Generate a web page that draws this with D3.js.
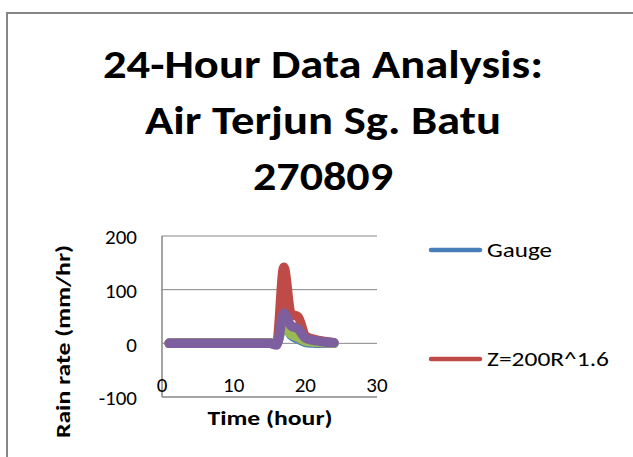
<!DOCTYPE html>
<html>
<head>
<meta charset="utf-8">
<script src="https://cdn.jsdelivr.net/npm/d3@7"></script>
<style>
  body { margin: 0; background: #fff; }
  text { font-family: Carlito, Calibri, Lato, sans-serif; fill: #000; }
</style>
</head>
<body>
<svg width="633" height="457"></svg>
<script>
// data (hourly, 1..24)
let hours = [1, 2, 3, 4, 5, 6, 7, 8, 9, 10, 11, 12, 13, 14, 15, 16, 17, 18, 19, 20, 21, 22, 23, 24];
let gauge = [0, 0, 0, 0, 0, 0, 0, 0, 0, 0, 0, 0, 0, 0, 0, 0, 40, 15, 8, 2, 0.5, 0, 0, 0];
let z200 = [0, 0, 0, 0, 0, 0, 0, 0, 0, 0, 0, 0, 0, 0, 0, 0, 142, 55, 49, 14, 8, 5, 3, 1];
let greenSeries = [0, 0, 0, 0, 0, 0, 0, 0, 0, 0, 0, 0, 0, 0, 0, 0, 42, 17, 11, 4, 2.5, 1.5, 1, 0];
let purpleSeries = [0, 0, 0, 0, 0, 0, 0, 0, 0, 0, 0, 0, 0, 0, 0, -3, 56, 33, 27, 10, 6, 4, 2, 1];
let xTicks = [0, 10, 20, 30];
let yTicks = [-100, 0, 100, 200];
let titleLines = ["24-Hour Data Analysis:", "Air Terjun Sg. Batu", "270809"];
let legendNames = ["Gauge", "Z=200R^1.6"];

let svg = d3.select("svg");
let grey = "#868686";

// chart border
svg.append("rect")
    .attr("x", 7).attr("y", 13)
    .attr("width", 640).attr("height", 460)
    .attr("fill", "none")
    .attr("stroke", grey)
    .attr("stroke-width", 2);

// title
let titleW = [440, 356, 140];
svg.selectAll(".title")
    .data(titleLines)
    .enter()
    .append("text")
    .attr("class", "title")
    .attr("x", 323)
    .attr("y", (d, i) => 78 + i * 56)
    .attr("text-anchor", "middle")
    .style("font-size", "40px")
    .style("font-weight", "bold")
    .attr("textLength", (d, i) => titleW[i])
    .attr("lengthAdjust", "spacingAndGlyphs")
    .text(d => d);

// scales
let x = d3.scaleLinear().domain([0, 30]).range([162, 377]);
let y = d3.scaleLinear().domain([-100, 200]).range([397, 236]);

// gridlines
svg.append("g")
    .selectAll("line")
    .data(yTicks.filter(d => d > -100))
    .enter()
    .append("line")
    .attr("x1", x(0)).attr("x2", x(30))
    .attr("y1", d => y(d)).attr("y2", d => y(d))
    .attr("stroke", grey)
    .attr("stroke-width", 1);

// axes lines
svg.append("line")
    .attr("x1", x(0)).attr("x2", x(0))
    .attr("y1", y(200)).attr("y2", y(-100))
    .attr("stroke", grey).attr("stroke-width", 1.5);
svg.append("line")
    .attr("x1", x(0)).attr("x2", x(30))
    .attr("y1", y(-100)).attr("y2", y(-100))
    .attr("stroke", grey).attr("stroke-width", 1.5);

// tick labels
svg.append("g")
    .selectAll("text")
    .data(yTicks)
    .enter()
    .append("text")
    .attr("x", 137)
    .attr("y", d => y(d) + 1)
    .attr("dy", "0.35em")
    .attr("text-anchor", "end")
    .style("font-size", "21px")
    .text(d => d);

svg.append("g")
    .selectAll("text")
    .data(xTicks)
    .enter()
    .append("text")
    .attr("x", d => x(d))
    .attr("y", 392)
    .attr("text-anchor", "middle")
    .style("font-size", "21px")
    .text(d => d);

// axis titles
svg.append("text")
    .attr("x", 270).attr("y", 425)
    .attr("text-anchor", "middle")
    .style("font-size", "21px")
    .style("font-weight", "bold")
    .attr("textLength", 125)
    .attr("lengthAdjust", "spacingAndGlyphs")
    .text("Time (hour)");

svg.append("text")
    .attr("transform", "translate(70, 341.5) rotate(-90)")
    .attr("text-anchor", "middle")
    .style("font-size", "21px")
    .style("font-weight", "bold")
    .attr("textLength", 193)
    .attr("lengthAdjust", "spacingAndGlyphs")
    .text("Rain rate (mm/hr)");

// series
let seriesList = [
    { vals: gauge, color: "#4A7EBB" },
    { vals: z200, color: "#BE4B48" },
    { vals: greenSeries, color: "#98B954" },
    { vals: purpleSeries, color: "#7D5FA0" }
];

let line = d3.line()
    .curve(d3.curveMonotoneX)
    .x((d, i) => x(hours[i]))
    .y(d => y(d));

svg.append("g")
    .selectAll("path")
    .data(seriesList)
    .enter()
    .append("path")
    .attr("d", d => line(d.vals))
    .attr("fill", "none")
    .attr("stroke", d => d.color)
    .attr("stroke-width", 9.5)
    .attr("stroke-linejoin", "round")
    .attr("stroke-linecap", "round");

// legend (only two entries fit)
let legW = [65, 122];
let leg = svg.append("g")
    .selectAll("g")
    .data(legendNames)
    .enter()
    .append("g")
    .attr("transform", (d, i) => "translate(0," + (250 + i * 109) + ")");

leg.append("line")
    .attr("x1", 431).attr("x2", 480)
    .attr("stroke", (d, i) => seriesList[i].color)
    .attr("stroke-width", 4.5)
    .attr("stroke-linecap", "round");

leg.append("text")
    .attr("x", 487)
    .attr("dy", "0.35em")
    .style("font-size", "20px")
    .attr("textLength", (d, i) => legW[i])
    .attr("lengthAdjust", "spacingAndGlyphs")
    .text(d => d);
</script>
</body>
</html>
